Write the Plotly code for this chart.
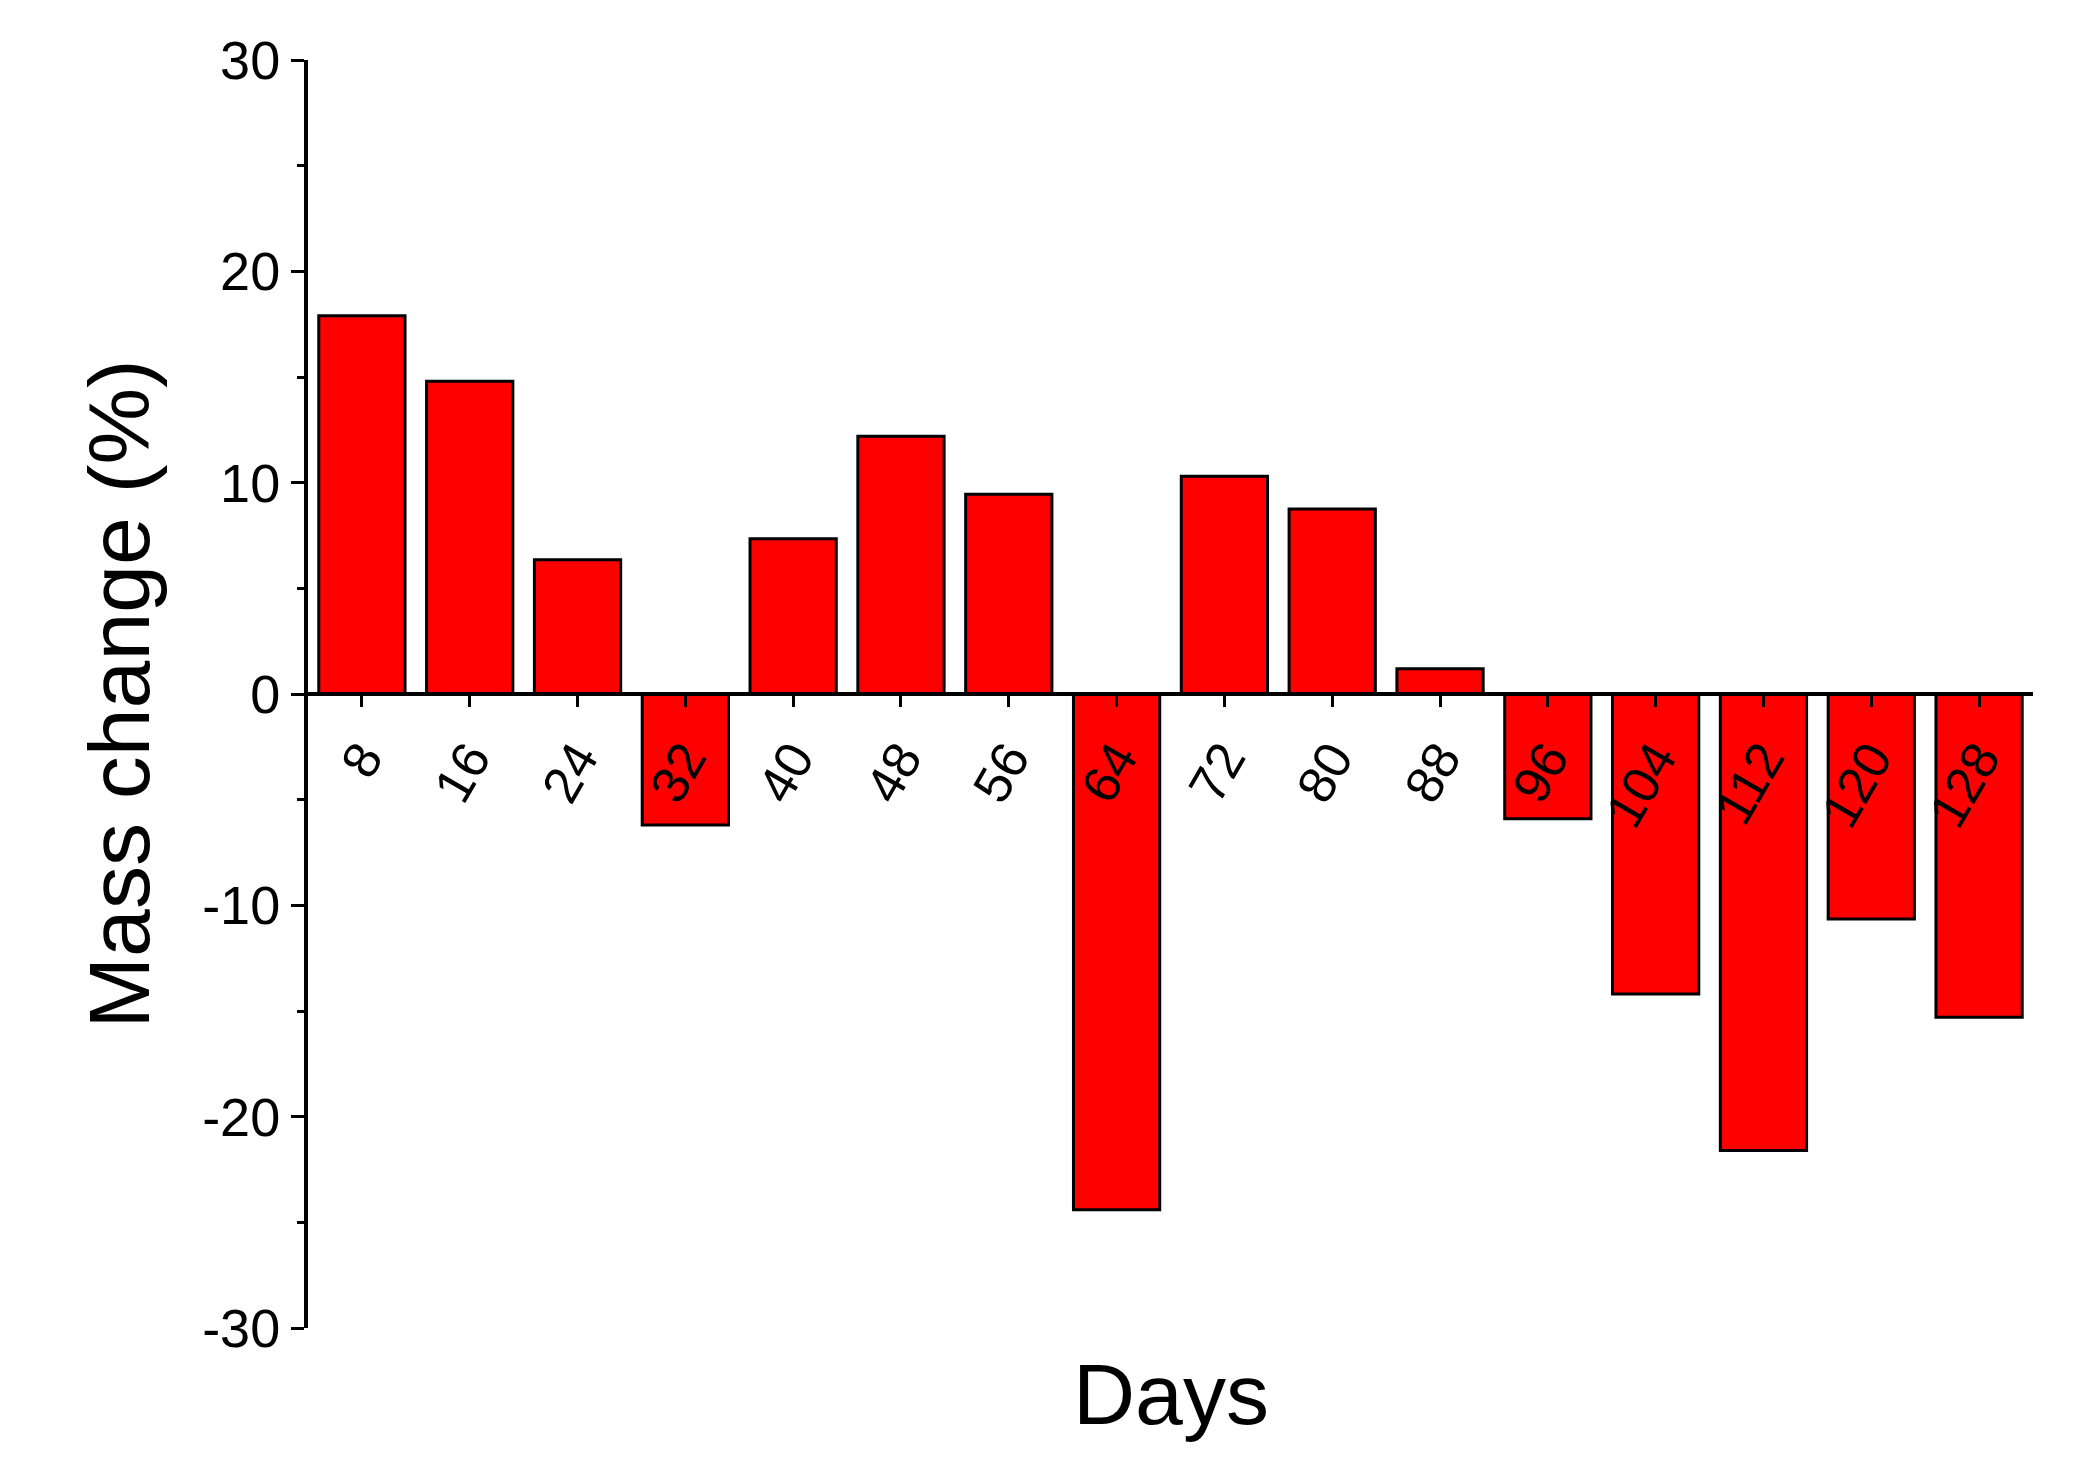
import plotly.graph_objects as go

days = [8, 16, 24, 32, 40, 48, 56, 64, 72, 80, 88, 96, 104, 112, 120, 128]
mass_change = [17.9, 14.8, 6.35, -6.2, 7.35, 12.2, 9.45, -24.4, 10.3, 8.75, 1.2, -5.9, -14.2, -21.6, -10.65, -15.3]
ytick_vals = [-30, -20, -10, 0, 10, 20, 30]
ytick_text = ["-30", "-20", "-10", "0", "10", "20", "30"]

fig = go.Figure(go.Bar(x=days, y=mass_change, width=6.4,
                       marker=dict(color="#ff0000", line=dict(color="black", width=3))))
font = "Liberation Sans, Arial, sans-serif"
fig.update_layout(
    width=2097, height=1475, plot_bgcolor="white", paper_bgcolor="white",
    margin=dict(l=300, r=72, t=52, b=155), showlegend=False,
    font=dict(family=font, color="black"),
    xaxis=dict(range=[4, 132], tickvals=days, ticktext=[str(d) for d in days],
               anchor="free", position=0.5, showline=True, linecolor="black", linewidth=4,
               ticks="outside", ticklen=11, tickwidth=3, tickcolor="black",
               tickangle=-60, tickfont=dict(size=52, family=font), showgrid=False, zeroline=False),
    yaxis=dict(range=[-30, 30], tickvals=ytick_vals, ticktext=ytick_text, showline=True,
               linecolor="black", linewidth=4, ticks="outside", ticklen=13, tickwidth=3,
               tickcolor="black", tickfont=dict(size=54, family=font), showgrid=False,
               zeroline=False,
               minor=dict(tickvals=[-25, -15, -5, 5, 15, 25], ticks="outside", ticklen=7, tickwidth=3, tickcolor="black"),
               title=dict(text="Mass change (%)", font=dict(size=86, family=font), standoff=25)),
    annotations=[dict(text="Days", x=0.5, y=0, xref="paper", yref="paper", yanchor="middle",
                      yshift=-66, showarrow=False, font=dict(size=86, family=font))],
)
fig.write_html("out.html")
